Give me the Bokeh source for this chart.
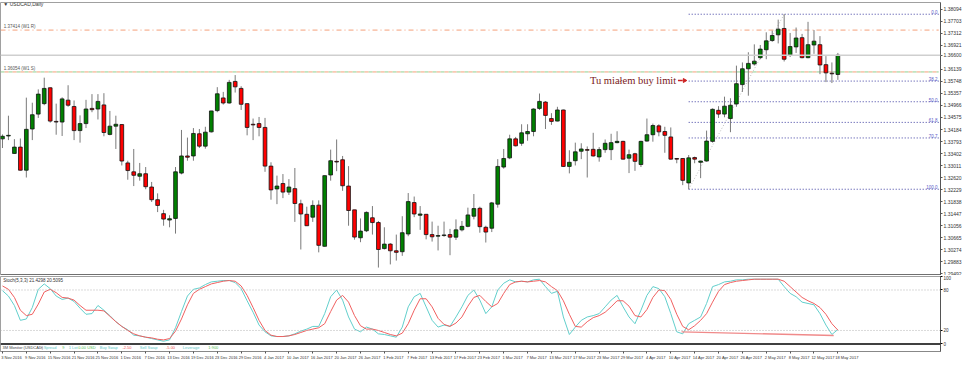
from bokeh.plotting import figure
from bokeh.layouts import column
from bokeh.models import Range1d, FixedTicker, Span
from bokeh.embed import file_html
from bokeh.resources import INLINE
from bokeh.core.properties import value

FONT = "Liberation Sans"

# ---------------- data ----------------
date_labels = ["3 Nov 2016", "9 Nov 2016", "15 Nov 2016", "21 Nov 2016", "25 Nov 2016",
               "1 Dec 2016", "7 Dec 2016", "13 Dec 2016", "19 Dec 2016", "23 Dec 2016",
               "29 Dec 2016", "4 Jan 2017", "10 Jan 2017", "16 Jan 2017", "20 Jan 2017",
               "26 Jan 2017", "1 Feb 2017", "7 Feb 2017", "13 Feb 2017", "17 Feb 2017",
               "23 Feb 2017", "1 Mar 2017", "7 Mar 2017", "13 Mar 2017", "17 Mar 2017",
               "23 Mar 2017", "29 Mar 2017", "4 Apr 2017", "10 Apr 2017", "14 Apr 2017",
               "20 Apr 2017", "26 Apr 2017", "2 May 2017", "8 May 2017", "12 May 2017",
               "18 May 2017"]
date_tick_bars = [4 * k for k in range(len(date_labels))]

open_ = [1.33881, 1.33974, 1.33407, 1.33613, 1.32862, 1.34201, 1.34685, 1.35025, 1.35540, 1.34448,
         1.34427, 1.35138, 1.34932, 1.34150, 1.34376, 1.34870, 1.34850, 1.34983, 1.34025, 1.34293,
         1.34345, 1.33098, 1.32810, 1.32666, 1.32748, 1.32316, 1.31904, 1.31451, 1.31244, 1.31296,
         1.32769, 1.33325, 1.33325, 1.34046, 1.33644, 1.34108, 1.34798, 1.35210, 1.35045, 1.35746,
         1.35519, 1.35025, 1.34355, 1.34376, 1.34252, 1.32995, 1.32254, 1.32429, 1.32151, 1.32264,
         1.31770, 1.31430, 1.31337, 1.31728, 1.30391, 1.32708, 1.33150, 1.33201, 1.32347, 1.31574,
         1.30668, 1.30895, 1.31317, 1.31162, 1.30317, 1.30462, 1.30245, 1.30214, 1.30791, 1.31811,
         1.31399, 1.31430, 1.30771, 1.30719, 1.30740, 1.30771, 1.30688, 1.30925, 1.31038, 1.31368,
         1.31625, 1.31008, 1.30977, 1.31760, 1.32965, 1.33263, 1.33881, 1.33737, 1.34046, 1.34119,
         1.34870, 1.35076, 1.34540, 1.34458, 1.34819, 1.32985, 1.33170, 1.33479, 1.33531, 1.33541,
         1.33294, 1.33531, 1.33531, 1.33758, 1.33799, 1.33253, 1.33397, 1.33047, 1.33809, 1.34015,
         1.34303, 1.34119, 1.33943, 1.33243, 1.33243, 1.32450, 1.33273, 1.33119, 1.33160, 1.33799,
         1.34808, 1.34685, 1.34540, 1.35014, 1.35643, 1.36157, 1.36312, 1.36518, 1.36775, 1.37074,
         1.37260, 1.37466, 1.36600, 1.36868, 1.37167, 1.36518, 1.36930, 1.36940, 1.36291, 1.36013,
         1.35972]
high = [1.34025, 1.34633, 1.33871, 1.33892, 1.35220, 1.35055, 1.35488, 1.35869, 1.35550, 1.35025,
        1.35231, 1.35622, 1.35128, 1.34643, 1.35148, 1.35334, 1.35334, 1.35364, 1.34788, 1.34633,
        1.34355, 1.33170, 1.33552, 1.33098, 1.32965, 1.32481, 1.32110, 1.31574, 1.31399, 1.32965,
        1.34170, 1.33922, 1.34231, 1.34201, 1.34273, 1.34790, 1.35560, 1.35406, 1.35797, 1.35952,
        1.35591, 1.35030, 1.34540, 1.34592, 1.34561, 1.33119, 1.32686, 1.32738, 1.32573, 1.32934,
        1.31904, 1.31677, 1.31883, 1.31883, 1.32690, 1.33531, 1.33861, 1.33325, 1.32995, 1.31574,
        1.31296, 1.31523, 1.31698, 1.31213, 1.31008, 1.30493, 1.30771, 1.31368, 1.32120, 1.32007,
        1.31698, 1.31440, 1.31193, 1.31059, 1.31193, 1.30956, 1.31265, 1.31213, 1.31646, 1.32089,
        1.31677, 1.31059, 1.31832, 1.33222, 1.33552, 1.34015, 1.33943, 1.34355, 1.34355, 1.34870,
        1.35354, 1.35107, 1.34715, 1.34922, 1.34830, 1.33510, 1.33758, 1.33737, 1.33634, 1.34077,
        1.33613, 1.33861, 1.34046, 1.34128, 1.33819, 1.33531, 1.33428, 1.33819, 1.34540, 1.34376,
        1.34355, 1.34273, 1.34252, 1.33253, 1.33250, 1.33356, 1.33304, 1.33170, 1.34149, 1.34870,
        1.34942, 1.35251, 1.35200, 1.36259, 1.36363, 1.36693, 1.36951, 1.36930, 1.37342, 1.37394,
        1.37754, 1.37929, 1.37321, 1.37497, 1.37290, 1.37682, 1.37414, 1.37218, 1.36569, 1.36363,
        1.36672]
low = [1.33583, 1.33840, 1.33397, 1.32851, 1.32625, 1.33840, 1.34561, 1.34973, 1.34407, 1.34015,
       1.33974, 1.34922, 1.33840, 1.33758, 1.34231, 1.34746, 1.34510, 1.33964, 1.33995, 1.33552,
       1.33016, 1.32553, 1.32347, 1.32522, 1.32244, 1.31832, 1.31502, 1.31059, 1.31008, 1.30803,
       1.32728, 1.33170, 1.33170, 1.33583, 1.33562, 1.34087, 1.34746, 1.34994, 1.35025, 1.35385,
       1.34819, 1.33995, 1.33840, 1.33964, 1.32810, 1.31904, 1.31760, 1.31955, 1.32058, 1.31183,
       1.30287, 1.31049, 1.31183, 1.30194, 1.30380, 1.32522, 1.32830, 1.32192, 1.31059, 1.30606,
       1.30524, 1.30853, 1.30771, 1.29700, 1.30287, 1.29802, 1.29926, 1.30080, 1.30719, 1.31337,
       1.30925, 1.30616, 1.30544, 1.30256, 1.30699, 1.30101, 1.30595, 1.30874, 1.31008, 1.31265,
       1.30832, 1.30513, 1.30853, 1.31646, 1.32913, 1.33222, 1.33634, 1.33655, 1.33819, 1.33964,
       1.34819, 1.34201, 1.34334, 1.34450, 1.32965, 1.32759, 1.33016, 1.33222, 1.32625, 1.33304,
       1.33140, 1.33428, 1.33191, 1.33737, 1.33210, 1.32769, 1.32841, 1.32965, 1.33789, 1.33789,
       1.33964, 1.33428, 1.33210, 1.33088, 1.32377, 1.32244, 1.33088, 1.32604, 1.33140, 1.33758,
       1.34561, 1.34582, 1.34097, 1.34922, 1.35406, 1.35282, 1.36259, 1.36467, 1.36467, 1.37033,
       1.36981, 1.36394, 1.36539, 1.36672, 1.36497, 1.36497, 1.36642, 1.35982, 1.35725, 1.35694,
       1.35797]
close = [1.33964, 1.33995, 1.33613, 1.32862, 1.34190, 1.34664, 1.35334, 1.35519, 1.34458, 1.34427,
         1.35179, 1.34973, 1.34149, 1.34376, 1.34850, 1.34829, 1.35097, 1.34087, 1.34293, 1.34355,
         1.33160, 1.32851, 1.32697, 1.32748, 1.32326, 1.31904, 1.31718, 1.31275, 1.31286, 1.32810,
         1.33325, 1.33284, 1.34056, 1.33644, 1.34098, 1.34788, 1.35344, 1.35045, 1.35715, 1.35570,
         1.35004, 1.34252, 1.34334, 1.34252, 1.32995, 1.32223, 1.32347, 1.32151, 1.32316, 1.31780,
         1.31440, 1.31059, 1.31718, 1.30422, 1.32686, 1.33170, 1.33129, 1.32357, 1.31553, 1.30690,
         1.30884, 1.31492, 1.31162, 1.30287, 1.30462, 1.30245, 1.30194, 1.30832, 1.31842, 1.31440,
         1.31440, 1.30771, 1.30699, 1.30740, 1.30760, 1.30688, 1.30925, 1.31038, 1.31409, 1.31615,
         1.31028, 1.30853, 1.31801, 1.32985, 1.33243, 1.33881, 1.33655, 1.34077, 1.34119, 1.34850,
         1.35097, 1.34643, 1.34448, 1.34819, 1.32985, 1.33119, 1.33459, 1.33552, 1.33510, 1.33325,
         1.33531, 1.33737, 1.33758, 1.33799, 1.33222, 1.33366, 1.33150, 1.33799, 1.34015, 1.34314,
         1.34108, 1.33995, 1.33222, 1.33222, 1.32532, 1.33263, 1.33222, 1.33160, 1.33809, 1.34840,
         1.34685, 1.34942, 1.34973, 1.35673, 1.36157, 1.36332, 1.36405, 1.36796, 1.37064, 1.37239,
         1.37445, 1.36467, 1.36879, 1.37157, 1.36518, 1.36940, 1.37054, 1.36281, 1.36024, 1.35993,
         1.36600]

stoch_main = [79, 71, 57, 35, 37, 54, 81, 89, 82, 71, 66, 68, 63, 53, 44, 45, 57, 50, 42, 33,
              26, 21, 13, 12, 10, 8, 6, 4, 6, 24, 48, 71, 81, 83, 88, 92, 93, 94, 94, 91,
              82, 64, 47, 28, 18, 12, 11, 11, 12, 15, 19, 22, 26, 26,
              45, 70, 80, 65, 40, 22, 18, 25, 22, 15, 14, 12, 10, 25, 55, 70, 75, 55, 35, 25,
              28, 26, 40, 55, 72, 80, 65, 45, 55, 80, 90, 95, 92, 93, 92, 95, 96, 85, 75, 78,
              40, 14, 25, 35, 40, 42, 45, 55, 65, 72, 55, 40, 30, 50, 72, 85, 82, 70, 45, 18,
              15, 30, 35, 40, 60, 85, 88, 92, 93, 95, 95, 96, 96, 96, 96, 96, 96, 85, 75, 70,
              62, 60, 58, 45, 28, 14, 21.4298]
stoch_signal = [86, 81, 69, 50, 42, 44, 59, 77, 81, 76, 69, 68, 65, 57, 50, 50, 50, 49, 41, 33,
                26, 20, 15, 12, 10, 9, 7, 6, 8, 19, 37, 58, 75, 81, 85, 89, 91, 93, 94, 93,
                86, 72, 54, 35, 20, 13, 11, 11, 12, 14, 17, 20, 22, 24,
                30, 48, 65, 72, 62, 42, 27, 22, 22, 20, 17, 14, 12, 16, 30, 50, 67, 67, 55, 38,
                29, 26, 31, 40, 56, 69, 72, 63, 55, 60, 75, 88, 92, 93, 92, 93, 94, 92, 85, 79,
                64, 44, 26, 25, 33, 39, 42, 47, 55, 64, 64, 56, 42, 40, 51, 69, 80, 79, 66, 44,
                26, 21, 27, 35, 45, 62, 78, 88, 91, 93, 94, 95, 96, 96, 96, 96, 96, 93, 85, 77,
                69, 64, 60, 54, 44, 30, 20.5095]

# price scale labels; the one under the bid price is replaced by the bid itself
price_ticks = [1.38094, 1.37703, 1.37312, 1.36921, 1.36600, 1.36139, 1.35748, 1.35357,
               1.34966, 1.34575, 1.34184, 1.33793, 1.33402, 1.33011, 1.32620, 1.32229,
               1.31838, 1.31447, 1.31056, 1.30665, 1.30274, 1.29883, 1.29492]
stoch_ticks = [0, 20, 80, 100]
stoch_levels = [20, 80]

fib_levels = [0.0, 38.2, 50.0, 61.8, 70.7, 100.0]
fib_low_bar, fib_high_bar = 115, 131
pivot_upper = 1.37414
pivot_lower = 1.36054
stoch_trend_bars = [113.8, 139.3]
stoch_trend_vals = [18.0, 12.5]
info_texts = ["3M Monitor (USDCAD)", "\u25cb", "Spread", "9", "1 Lot", "0.00 USD", "Buy Swap",
              "-2.50", "Sell Swap", "-5.00", "Leverage", "1:900"]

# ---------------- layout ----------------
X0, X1 = -0.33, 157.2
XR = 156.9   # right end of drawn lines
W = 964
RB = 22

n = len(close)
idx = list(range(n))
cols = []
for o, c in zip(open_, close):
    cols.append("#008000" if c > o else ("#ff0000" if c < o else "#202020"))
tops = [max(o, c) for o, c in zip(open_, close)]
bots = [min(o, c) for o, c in zip(open_, close)]

p = figure(width=W, height=275, x_range=Range1d(X0, X1), y_range=Range1d(1.29442, 1.38310),
           output_backend="svg", toolbar_location=None, x_axis_location=None,
           y_axis_location="right", min_border_left=0, min_border_right=RB,
           min_border_top=2, min_border_bottom=0)
p.grid.visible = False
p.outline_line_color = "#a0a0a0"
p.background_fill_color = "white"
p.border_fill_color = "white"

ax = p.yaxis[0]
ax.ticker = FixedTicker(ticks=price_ticks)
ax.major_label_overrides = {t: f"{t:.5f}" for t in price_ticks}
ax.major_label_text_font = FONT
ax.major_label_text_font_size = "5px"
ax.major_label_text_color = "#333333"
ax.axis_line_color = "#555555"
ax.major_tick_line_color = "#555555"
ax.major_tick_out = 2
ax.major_tick_in = 0
ax.minor_tick_out = 0
ax.minor_tick_in = 0
ax.major_label_standoff = 1

# pivot lines
p.segment(x0=[X0], x1=[XR], y0=[pivot_upper], y1=[pivot_upper], line_color="#f4a07a",
          line_width=1, line_dash="5 3 1 3")
p.segment(x0=[X0], x1=[XR], y0=[pivot_lower], y1=[pivot_lower], line_color="#8fd08f",
          line_width=1, line_dash="4 4")
p.segment(x0=[X0], x1=[XR], y0=[pivot_lower], y1=[pivot_lower], line_color="#f4a07a",
          line_width=1, line_dash="4 4", line_dash_offset=4)
p.text(x=[0.2, 0.2], y=[pivot_upper, pivot_lower],
       text=[f"{pivot_upper:.5f} (W1 R)", f"{pivot_lower:.5f} (W1 S)"],
       text_font=value(FONT), text_font_size="4.5px", text_color="#555555",
       text_baseline="bottom", y_offset=-1)

# bid line
p.add_layout(Span(location=close[-1], dimension="width", line_color="#cfcfcf", line_width=1.5))

# fibonacci
fh = high[fib_high_bar]
fl = low[fib_low_bar]
fib_prices = [fh - lv / 100.0 * (fh - fl) for lv in fib_levels]
p.segment(x0=[fib_low_bar] * len(fib_prices), x1=[XR] * len(fib_prices), y0=fib_prices,
          y1=fib_prices, line_color="#3c3ca0", line_width=1, line_dash="1 2")
p.segment(x0=[fib_low_bar], y0=[fl], x1=[fib_high_bar], y1=[fh], line_color="#bbbbbb",
          line_width=1, line_dash="1 2")
p.text(x=[XR - 0.2] * len(fib_prices), y=fib_prices, text=[f"{lv:.1f}" for lv in fib_levels],
       text_font=value(FONT), text_font_size="4.5px", text_color="#5a5ac8",
       text_align="right", text_baseline="bottom")

# candles
p.segment(x0=idx, x1=idx, y0=high, y1=low, line_color="#7a7a7a", line_width=1)
p.vbar(x=idx, width=0.62, top=tops, bottom=bots, fill_color=cols, line_color="#111111",
       line_width=0.8)

# annotation text
p.text(x=[112.9], y=[1.35776], text=["Tu miałem buy limit"], text_font=value("Liberation Serif"),
       text_font_size="10.5px", text_color="#7a1a1a", text_baseline="middle",
       text_align="right")
p.segment(x0=[113.2], x1=[114.0], y0=[1.35776], y1=[1.35776], line_color="#cc2020", line_width=1.5)
p.scatter(x=[114.3], y=[1.35776], marker="triangle", angle=-1.5708, size=4,
          fill_color="#cc2020", line_color="#cc2020")

p.text(x=[0.15], y=[1.38250], text=["\u25bc USDCAD,Daily"], text_font=value(FONT),
       text_font_size="5px", text_color="#333333", text_baseline="middle")

p.add_layout(Span(location=1.29442, dimension="width", line_color="#404040", line_width=2))

# ---------------- stochastic panel ----------------
p2 = figure(width=W, height=87, x_range=p.x_range, y_range=Range1d(-11.2, 100),
            output_backend="svg", toolbar_location=None, x_axis_location="below",
            y_axis_location="right", min_border_left=0, min_border_right=RB,
            min_border_top=1, min_border_bottom=10)
p2.grid.visible = False
p2.outline_line_color = "#a0a0a0"

for lv in stoch_levels:
    p2.add_layout(Span(location=lv, dimension="width", line_color="#b5b5b5", line_width=1,
                       line_dash="1 2"))
p2.line(idx, stoch_main, line_color="#62cfcc", line_width=1)
p2.line(idx, stoch_signal, line_color="#f06060", line_width=1)
p2.line(stoch_trend_bars, stoch_trend_vals, line_color="#f08a8a", line_width=1.3)
p2.add_layout(Span(location=0, dimension="width", line_color="#404040", line_width=2))

p2.text(x=[0.15], y=[94], text=[f"Stoch(5,3,3) {stoch_main[-1]:.4f} {stoch_signal[-1]:.4f}"],
        text_font=value(FONT), text_font_size="4.5px", text_color="#333333",
        text_baseline="middle")

info_x = [0.0, 6.3, 6.9, 10.0, 11.1, 12.7, 16.3, 20.1, 23.0, 27.4, 30.2, 34.5]
info_c = ["#444444", "#444444", "#5cc8c8", "#55c055", "#5cc8c8", "#55c055", "#5cc8c8",
          "#f05050", "#5cc8c8", "#f05050", "#5cc8c8", "#55c055"]
p2.text(x=info_x, y=[-5.6] * len(info_x), text=info_texts, text_font=value(FONT),
        text_font_size="4px", text_color=info_c, text_baseline="middle")

ay = p2.yaxis[0]
ay.ticker = FixedTicker(ticks=stoch_ticks)
ay.major_label_text_font = FONT
ay.major_label_text_font_size = "4.5px"
ay.major_label_text_color = "#333333"
ay.axis_line_color = "#555555"
ay.major_tick_out = 2
ay.major_tick_in = 0
ay.minor_tick_out = 0
ay.minor_tick_in = 0
ay.major_label_standoff = 1

axx = p2.xaxis[0]
axx.ticker = FixedTicker(ticks=[b + 1.5 for b in date_tick_bars], minor_ticks=date_tick_bars)
axx.major_label_overrides = {b + 1.5: d for b, d in zip(date_tick_bars, date_labels)}
axx.major_label_text_font = FONT
axx.major_label_text_font_size = "4px"
axx.major_label_text_color = "#333333"
axx.axis_line_color = "#888888"
axx.major_tick_out = 0
axx.major_tick_in = 0
axx.minor_tick_out = 2
axx.minor_tick_in = 0
axx.minor_tick_line_color = "#555555"
axx.major_label_standoff = 1

layout = column(p, p2, spacing=0)
open("out.html", "w").write(file_html(layout, INLINE))
